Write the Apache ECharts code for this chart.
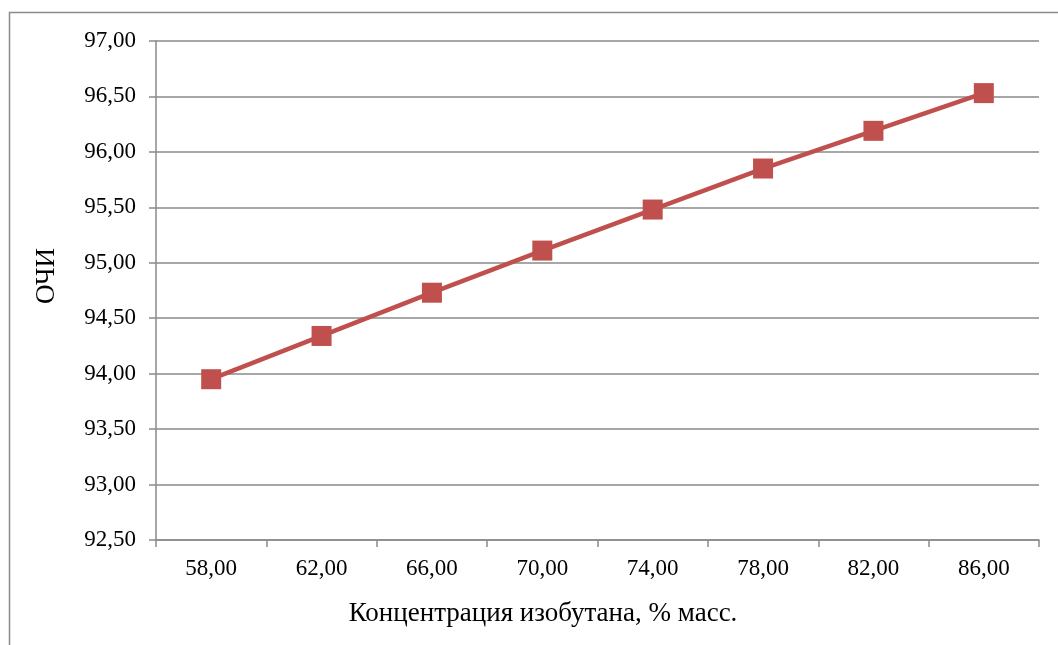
<!DOCTYPE html>
<html>
<head>
<meta charset="utf-8">
<script src="https://cdn.jsdelivr.net/npm/echarts@6/dist/echarts.min.js"></script>
<style>
html,body{margin:0;padding:0;background:#fff;}
#chart{width:1058px;height:645px;}
</style>
</head>
<body>
<div id="chart"></div>
<script>
var categories = ['58,00', '62,00', '66,00', '70,00', '74,00', '78,00', '82,00', '86,00'];
var ochiValues = [93.95, 94.34, 94.73, 95.11, 95.48, 95.85, 96.19, 96.53];
var xAxisTitle = 'Концентрация изобутана, % масс.';
var yAxisTitle = 'ОЧИ';

var chart = echarts.init(document.getElementById('chart'));
var font = 'Liberation Serif';
chart.setOption({
  animation: false,
  backgroundColor: '#fff',
  graphic: [{
    type: 'rect',
    shape: {x: 9.5, y: 12.5, width: 1200, height: 800},
    style: {fill: 'none', stroke: '#8a8a8a', lineWidth: 1.5},
    silent: true
  }, {
    type: 'text',
    x: 543, y: 614,
    style: {text: xAxisTitle, font: '27px "Liberation Serif"', fill: '#000', align: 'center', verticalAlign: 'middle'},
    silent: true
  }, {
    type: 'text',
    x: 47, y: 276,
    rotation: Math.PI / 2,
    style: {text: yAxisTitle, font: '27px "Liberation Serif"', fill: '#000', align: 'center', verticalAlign: 'middle'},
    silent: true
  }],
  grid: {left: 156, right: 19, top: 41, bottom: 105},
  xAxis: {
    type: 'category',
    data: categories,
    boundaryGap: true,
    axisLine: {lineStyle: {color: '#8a8a8a', width: 1.5}},
    axisTick: {show: true, length: 7, lineStyle: {color: '#8a8a8a', width: 1.5}},
    axisLabel: {fontFamily: font, fontSize: 23, color: '#000', margin: 17},
    splitLine: {show: false}
  },
  yAxis: {
    type: 'value',
    min: 92.5,
    max: 97,
    interval: 0.5,
    axisLine: {show: true, lineStyle: {color: '#8a8a8a', width: 1.5}},
    axisTick: {show: true, length: 7, lineStyle: {color: '#8a8a8a', width: 1.5}},
    axisLabel: {
      fontFamily: font, fontSize: 23, color: '#000', margin: 20,
      formatter: function (v) { return v.toFixed(2).replace('.', ','); }
    },
    splitLine: {show: true, lineStyle: {color: '#8a8a8a', width: 1.5}}
  },
  series: [{
    type: 'line',
    data: ochiValues,
    symbol: 'rect',
    symbolSize: 20,
    lineStyle: {color: '#C0504D', width: 4.5},
    itemStyle: {color: '#C0504D'}
  }]
});
</script>
</body>
</html>
